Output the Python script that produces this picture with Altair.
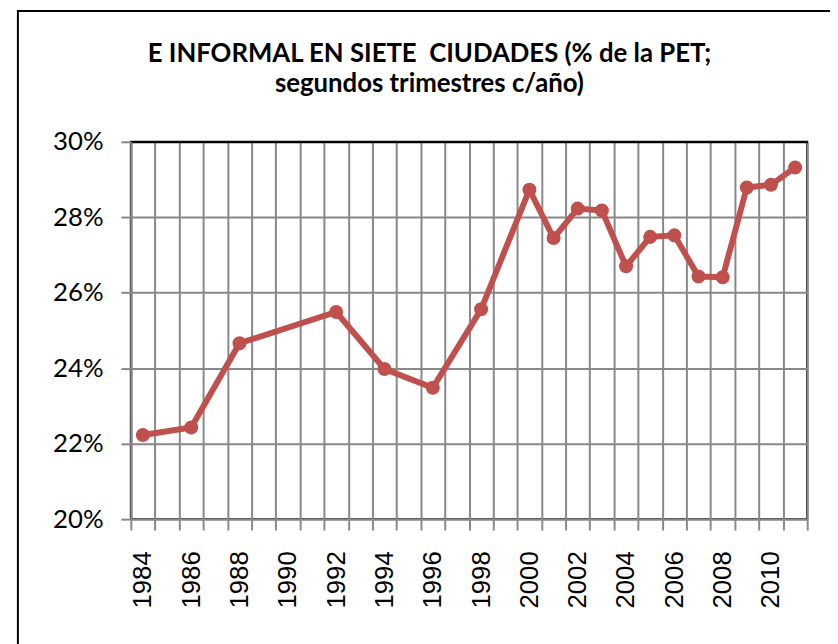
import altair as alt
import pandas as pd

# ---- data ----
years_all = ["1984", "1985", "1986", "1987", "1988", "1989", "1990", "1991", "1992", "1993",
             "1994", "1995", "1996", "1997", "1998", "1999", "2000", "2001", "2002", "2003",
             "2004", "2005", "2006", "2007", "2008", "2009", "2010", "2011"]
years = ["1984", "1986", "1988", "1992", "1994", "1996", "1998", "2000", "2001", "2002",
         "2003", "2004", "2005", "2006", "2007", "2008", "2009", "2010", "2011"]
values_pct = [22.23, 22.43, 24.66, 25.49, 23.98, 23.48, 25.56, 28.73, 27.45, 28.23,
              28.18, 26.70, 27.48, 27.52, 26.43, 26.41, 28.79, 28.86, 29.32]
y_ticks = [0.20, 0.22, 0.24, 0.26, 0.28, 0.30]
title_lines = ["E INFORMAL EN SIETE \u00a0CIUDADES (% de la PET;", "segundos trimestres c/año)"]

df = pd.DataFrame({"year": years, "share": [v / 100 for v in values_pct]})

RED = "#C0504D"
GRID = "#888888"

x_enc = alt.X(
    "year:O",
    scale=alt.Scale(type="band", domain=years_all, paddingInner=0, paddingOuter=0),
    axis=alt.Axis(
        title=None,
        tickBand="extent",
        labelAngle=270,
        labelAlign="right",
        labelBaseline="middle",
        labelExpr="toNumber(datum.value) % 2 == 0 ? datum.value : ''",
        labelFont="Liberation Sans",
        labelFontSize=26,
        labelColor="black",
        labelPadding=21,
        tickSize=11,
        tickColor=GRID,
        tickWidth=2,
        domainColor=GRID,
        domainWidth=2,
        grid=True,
        gridColor={"condition": {"test": "datum.extra", "value": "black"}, "value": GRID},
        gridWidth=2,
        gridOpacity=1,
    ),
)

y_enc = alt.Y(
    "share:Q",
    scale=alt.Scale(domain=[0.20, 0.30], nice=False, zero=False),
    axis=alt.Axis(
        title=None,
        values=y_ticks,
        format=".0%",
        labelFont="Lato",
        labelFontSize=26,
        labelColor="black",
        labelPadding=18,
        tickSize=10,
        tickColor=GRID,
        tickWidth=2,
        domainColor=GRID,
        domainWidth=2,
        grid=True,
        gridColor={"condition": {"test": "datum.value >= 0.299", "value": "black"}, "value": GRID},
        gridWidth=2,
        gridOpacity=1,
    ),
)

line = alt.Chart(df).mark_line(color=RED, strokeWidth=6).encode(x=x_enc, y=y_enc)
points = alt.Chart(df).mark_point(filled=True, color=RED, opacity=1, size=200, shape="circle").encode(
    x="year:O", y="share:Q"
)

frame_data = alt.Data(values=[{}])
frame_left = alt.Chart(frame_data).mark_rule(color="black", strokeWidth=2).encode(
    x=alt.value(-114), y=alt.value(-132), y2=alt.value(520)
)
frame_top = alt.Chart(frame_data).mark_rule(color="black", strokeWidth=2).encode(
    x=alt.value(-115), x2=alt.value(720), y=alt.value(-132)
)

chart = (
    alt.layer(frame_left, frame_top, line, points)
    .properties(
        width=683,
        height=381,
        padding={"left": 124, "top": 132, "right": 23, "bottom": 123},
        autosize=alt.AutoSizeParams(type="none"),
        title=alt.TitleParams(
            text=title_lines,
            font="Lato",
            fontSize=26,
            fontWeight="bold",
            color="black",
            anchor="middle",
            frame="group",
            dx=-40,
            dy=88,
            lineHeight=31,
            offset=0,
        ),
    )
    .configure_view(stroke="black", strokeWidth=2)
)

chart.save("out.html", embed_options={"renderer": "svg", "actions": False})
